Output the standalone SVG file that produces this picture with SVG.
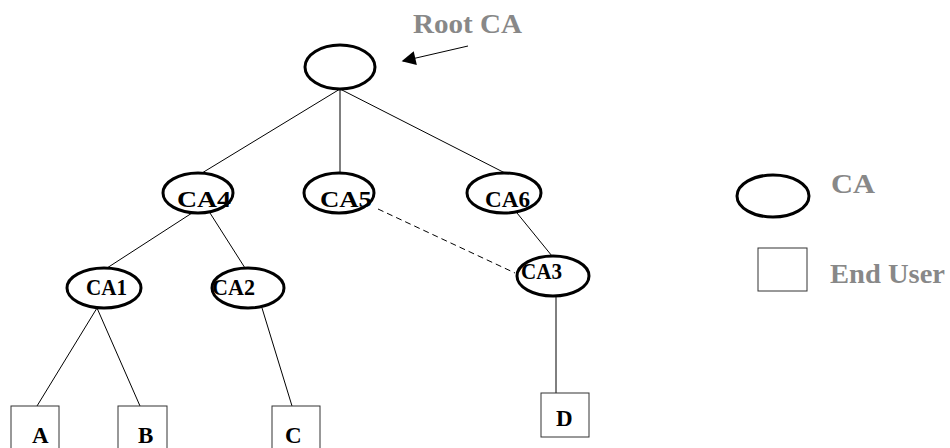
<svg xmlns="http://www.w3.org/2000/svg" width="950" height="448" viewBox="0 0 950 448">
<style>
.ca{fill:#fff;stroke:#000;stroke-width:3}
.eu{fill:#fff;stroke:#333;stroke-width:1}
.lbl{font-family:"Liberation Serif","Times New Roman",serif;font-weight:bold;font-size:24px;fill:#000}
.let{font-family:"Liberation Serif","Times New Roman",serif;font-weight:bold;font-size:23px;fill:#000}
.gray{font-family:"Liberation Serif","Times New Roman",serif;font-weight:bold;font-size:28px;fill:#888}
.ln{stroke:#000;stroke-width:1;fill:none}
</style>
<defs>
<marker id="ah" viewBox="0 0 10 10" refX="9" refY="5" markerWidth="18" markerHeight="14" markerUnits="userSpaceOnUse" orient="auto">
<path d="M0,0 L10,5 L0,10 z" fill="#000"/>
</marker>
</defs>
<rect width="950" height="448" fill="#fff"/>
<g id="connectors">
<line class="ln" x1="340" y1="89" x2="202" y2="173"/>
<line class="ln" x1="340" y1="89" x2="340" y2="173"/>
<line class="ln" x1="340" y1="89" x2="505" y2="173"/>
<line class="ln" x1="192" y1="213" x2="107" y2="268"/>
<line class="ln" x1="210" y1="213" x2="245" y2="268"/>
<line class="ln" x1="517" y1="213" x2="552" y2="256"/>
<line class="ln" x1="378" y1="209" x2="515" y2="273" stroke-dasharray="6,4"/>
<line class="ln" x1="97" y1="308" x2="37" y2="406"/>
<line class="ln" x1="97" y1="308" x2="140" y2="406"/>
<line class="ln" x1="262" y1="308" x2="292" y2="406"/>
<line class="ln" x1="556" y1="297" x2="556" y2="393"/>
<line class="ln" x1="468" y1="46" x2="403" y2="61" marker-end="url(#ah)"/>
</g>
<g id="rootca">
<ellipse class="ca" cx="340" cy="67" rx="35" ry="22"/>
</g>
<g id="rootca-label">
<text class="gray" x="413" y="33" textLength="109" lengthAdjust="spacingAndGlyphs">Root CA</text>
</g>
<g id="ca4">
<ellipse class="ca" cx="198" cy="193" rx="35" ry="20"/>
<text class="lbl" x="177" y="207" textLength="54" lengthAdjust="spacingAndGlyphs">CA4</text>
</g>
<g id="ca5">
<ellipse class="ca" cx="339" cy="193" rx="35" ry="20"/>
<text class="lbl" x="320" y="207" textLength="52" lengthAdjust="spacingAndGlyphs">CA5</text>
</g>
<g id="ca6">
<ellipse class="ca" cx="504" cy="193" rx="37" ry="20"/>
<text class="lbl" x="485" y="207" textLength="45" lengthAdjust="spacingAndGlyphs">CA6</text>
</g>
<g id="ca3">
<ellipse class="ca" cx="553" cy="276" rx="36" ry="20"/>
<text class="lbl" x="521" y="279" textLength="41" lengthAdjust="spacingAndGlyphs">CA3</text>
</g>
<g id="ca1">
<ellipse class="ca" cx="104" cy="288" rx="37" ry="20"/>
<text class="lbl" x="86" y="295" textLength="41" lengthAdjust="spacingAndGlyphs">CA1</text>
</g>
<g id="ca2">
<ellipse class="ca" cx="248" cy="288" rx="36" ry="20"/>
<text class="lbl" x="212" y="295" textLength="43" lengthAdjust="spacingAndGlyphs">CA2</text>
</g>
<g id="userA">
<rect class="eu" x="11" y="406" width="48" height="50"/>
<text class="let" x="32" y="443">A</text>
</g>
<g id="userB">
<rect class="eu" x="118" y="406" width="49" height="50"/>
<text class="let" x="138" y="443">B</text>
</g>
<g id="userC">
<rect class="eu" x="272" y="406" width="48" height="50"/>
<text class="let" x="285" y="443">C</text>
</g>
<g id="userD">
<rect class="eu" x="541" y="393" width="48" height="44"/>
<text class="let" x="556" y="426">D</text>
</g>
<g id="legend-ca">
<ellipse class="ca" cx="773" cy="196" rx="36" ry="21"/>
<text class="gray" x="831" y="193" textLength="44" lengthAdjust="spacingAndGlyphs">CA</text>
</g>
<g id="legend-user">
<rect class="eu" x="758" y="248" width="49" height="43"/>
<text class="gray" x="830" y="283" textLength="115" lengthAdjust="spacingAndGlyphs">End User</text>
</g>
</svg>
